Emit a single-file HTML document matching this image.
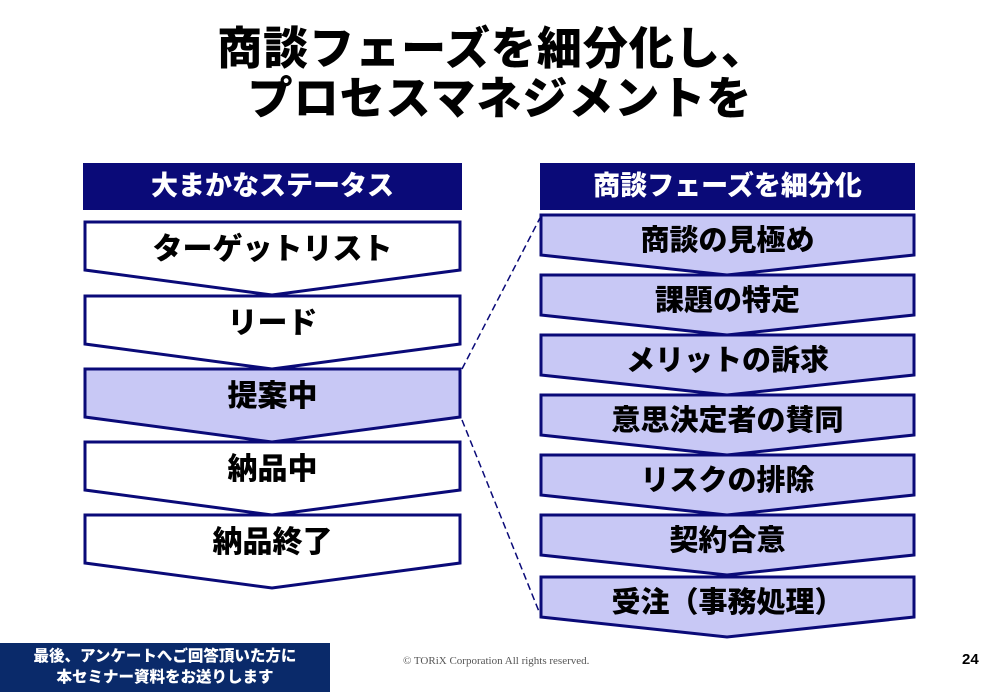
<!DOCTYPE html>
<html><head><meta charset="utf-8"><style>
body{margin:0;width:1000px;height:692px;background:#fff;position:relative;overflow:hidden;font-family:"Liberation Sans","Noto Sans CJK JP",sans-serif}
.t{position:absolute;left:0;width:1000px;text-align:center;font-weight:900;font-size:45px;color:#000;letter-spacing:1px}
.hd{position:absolute;height:47px;background:#0a0a78;color:#fff;font-weight:900;font-size:27px;text-align:center;line-height:47px}
.lb{position:absolute;text-align:center;font-weight:900;color:#000}
</style></head><body>
<div class="t" style="top:12px;left:-8px">商談フェーズを細分化し、</div>
<div class="t" style="top:62px">プロセスマネジメントを</div>
<div class="hd" style="left:83px;top:163px;width:379px">大まかなステータス</div>
<div class="hd" style="left:540px;top:163px;width:375px">商談フェーズを細分化</div>
<svg width="1000" height="692" style="position:absolute;left:0;top:0">
<g stroke="#0a0a78" stroke-width="3" stroke-linejoin="miter">
<polygon points="85,222 460,222 460,270 272,295 85,270" fill="#fff"/>
<polygon points="85,296 460,296 460,344 272,369 85,344" fill="#fff"/>
<polygon points="85,369 460,369 460,417 272,442 85,417" fill="#c8c8f5"/>
<polygon points="85,442 460,442 460,490 272,515 85,490" fill="#fff"/>
<polygon points="85,515 460,515 460,563 272,588 85,563" fill="#fff"/>
<polygon points="541,215 914,215 914,255 727,275 541,255" fill="#c8c8f5"/>
<polygon points="541,275 914,275 914,315 727,335 541,315" fill="#c8c8f5"/>
<polygon points="541,335 914,335 914,375 727,395 541,375" fill="#c8c8f5"/>
<polygon points="541,395 914,395 914,435 727,455 541,435" fill="#c8c8f5"/>
<polygon points="541,455 914,455 914,495 727,515 541,495" fill="#c8c8f5"/>
<polygon points="541,515 914,515 914,555 727,575 541,555" fill="#c8c8f5"/>
<polygon points="541,577 914,577 914,617 727,637 541,617" fill="#c8c8f5"/>
</g>
<g stroke="#0a0a78" stroke-width="1.5" stroke-dasharray="7,4">
<line x1="462" y1="369" x2="540" y2="218"/>
<line x1="462" y1="420" x2="540" y2="614"/>
</g>
</svg>
<div class="lb" style="left:85px;width:375px;top:224px;font-size:30px">ターゲットリスト</div>
<div class="lb" style="left:85px;width:375px;top:298px;font-size:30px">リード</div>
<div class="lb" style="left:85px;width:375px;top:371px;font-size:30px">提案中</div>
<div class="lb" style="left:85px;width:375px;top:444px;font-size:30px">納品中</div>
<div class="lb" style="left:85px;width:375px;top:517px;font-size:30px">納品終了</div>
<div class="lb" style="left:541px;width:373px;top:217px;font-size:29px">商談の見極め</div>
<div class="lb" style="left:541px;width:373px;top:277px;font-size:29px">課題の特定</div>
<div class="lb" style="left:541px;width:373px;top:337px;font-size:29px">メリットの訴求</div>
<div class="lb" style="left:541px;width:373px;top:397px;font-size:29px">意思決定者の賛同</div>
<div class="lb" style="left:541px;width:373px;top:457px;font-size:29px">リスクの排除</div>
<div class="lb" style="left:541px;width:373px;top:517px;font-size:29px">契約合意</div>
<div class="lb" style="left:541px;width:373px;top:579px;font-size:29px">受注（事務処理）</div>
<div style="position:absolute;left:0;top:643px;width:330px;height:49px;background:#0a2a6a;color:#fff;font-weight:900;font-size:15.5px;text-align:center;line-height:21px;padding-top:3px;box-sizing:border-box">最後、アンケートへご回答頂いた方に<br>本セミナー資料をお送りします</div>
<div style="position:absolute;left:403px;top:655px;font-family:'Liberation Serif',serif;font-size:11px;color:#555">© TORiX Corporation All rights reserved.</div>
<div style="position:absolute;left:962px;top:651px;font-weight:bold;font-size:15px">24</div>
</body></html>
